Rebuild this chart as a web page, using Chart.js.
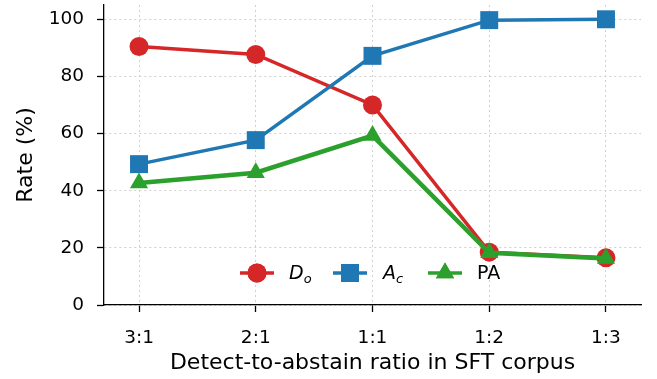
<!DOCTYPE html>
<html>
<head>
<meta charset="utf-8">
<script src="https://cdn.jsdelivr.net/npm/chart.js@4.4.1/dist/chart.umd.min.js"></script>
<style>
  html, body { margin: 0; padding: 0; background: #fff; }
  #wrap { width: 657px; height: 379px; }
</style>
</head>
<body>
<div id="wrap"><canvas id="myChart" width="657" height="379"></canvas></div>
<script>
const ratios = ['3:1', '2:1', '1:1', '1:2', '1:3'];
const detectOver = [90.5, 87.7, 70.0, 18.5, 16.5];
const abstainCorrect = [49.3, 57.7, 87.2, 99.7, 100.0];
const pa = [42.7, 46.3, 59.3, 18.3, 16.3];
const yTicks = [0, 20, 40, 60, 80, 100];

const COLORS = {
  red: '#d62728',
  blue: '#1f77b4',
  green: '#2ca02c',
};

const FONT = 'DejaVu Sans';

function toPoints(values) {
  return values.map((v, i) => ({x: i, y: v}));
}

// legend sits inside the plot, near the bottom
const legendItems = [
  {color: COLORS.red, style: 'circle', r: 9.5, main: 'D', sub: 'o', cx: 257, tx: 289},
  {color: COLORS.blue, style: 'rect', r: 12.7, main: 'A', sub: 'c', cx: 350, tx: 383},
  {color: COLORS.green, style: 'triangle', r: 10.5, main: 'PA', sub: '', cx: 445, tx: 477},
];

const legendPlugin = {
  id: 'innerLegend',
  afterDraw(chart) {
    const ctx = chart.ctx;
    const y = 273;
    ctx.save();
    legendItems.forEach(it => {
      ctx.strokeStyle = it.color;
      ctx.lineWidth = 3.5;
      ctx.beginPath();
      ctx.moveTo(it.cx - 17, y);
      ctx.lineTo(it.cx + 17, y);
      ctx.stroke();
      ctx.fillStyle = it.color;
      Chart.helpers.drawPoint(ctx, {pointStyle: it.style, radius: it.r, rotation: 0, borderWidth: 0}, it.cx, y);
      ctx.fill();
      ctx.fillStyle = '#000';
      ctx.textBaseline = 'alphabetic';
      ctx.textAlign = 'left';
      if (it.sub) {
        ctx.font = 'italic 19px "' + FONT + '"';
        ctx.fillText(it.main, it.tx, 279);
        const w = ctx.measureText(it.main).width;
        ctx.font = 'italic 13px "' + FONT + '"';
        ctx.fillText(it.sub, it.tx + w, 283);
      } else {
        ctx.font = '19px "' + FONT + '"';
        ctx.fillText(it.main, it.tx, 279);
      }
    });
    ctx.restore();
  }
};

const data = {
  datasets: [
    {
      label: 'D_o',
      data: toPoints(detectOver),
      borderColor: COLORS.red,
      backgroundColor: COLORS.red,
      borderWidth: 3.5,
      pointStyle: 'circle',
      pointRadius: 9.5,
      pointBorderWidth: 0,
      order: 3
    },
    {
      label: 'A_c',
      data: toPoints(abstainCorrect),
      borderColor: COLORS.blue,
      backgroundColor: COLORS.blue,
      borderWidth: 3.5,
      pointStyle: 'rect',
      pointRadius: 12.7,
      pointBorderWidth: 0,
      order: 2
    },
    {
      label: 'PA',
      data: toPoints(pa),
      borderColor: COLORS.green,
      backgroundColor: COLORS.green,
      borderWidth: 4.5,
      pointStyle: 'triangle',
      pointRadius: 10.5,
      pointBorderWidth: 0,
      order: 1
    }
  ]
};

const config = {
  type: 'line',
  data: data,
  options: {
    responsive: false,
    animation: false,
    layout: {autoPadding: false, padding: {top: 5, right: 16, left: 0, bottom: 0}},
    elements: {line: {tension: 0}},
    plugins: {
      legend: {display: false},
      tooltip: {enabled: false}
    },
    scales: {
      x: {
        type: 'linear',
        min: -0.3,
        max: 4.3,
        afterBuildTicks: (scale) => {
          scale.ticks = ratios.map((r, i) => ({value: i}));
        },
        afterFit: (scale) => { scale.height = 74; },
        ticks: {
          callback: (v) => ratios[v],
          color: '#000',
          font: {family: FONT, size: 18.5},
          padding: 15,
          maxRotation: 0
        },
        grid: {
          color: '#d0d0d0',
          lineWidth: 1,
          tickLength: 7,
          tickColor: '#000',
          tickWidth: 1.3
        },
        border: {display: true, color: '#000', width: 1.3, dash: [2, 3]},
        title: {
          display: true,
          text: 'Detect-to-abstain ratio in SFT corpus',
          color: '#000',
          font: {family: FONT, size: 22},
          padding: {top: 0, bottom: 3}
        }
      },
      y: {
        min: 0,
        max: 105,
        afterBuildTicks: (scale) => {
          scale.ticks = yTicks.map(v => ({value: v}));
        },
        afterFit: (scale) => {
          scale.width = 104;
          scale.paddingTop = 0;
        },
        ticks: {
          color: '#000',
          font: {family: FONT, size: 18.5},
          padding: 13
        },
        grid: {
          color: '#d0d0d0',
          lineWidth: 1,
          tickLength: 7,
          tickColor: '#000',
          tickWidth: 1.3
        },
        border: {display: true, color: '#000', width: 1.3, dash: [2, 3]},
        title: {
          display: true,
          text: 'Rate (%)',
          color: '#000',
          font: {family: FONT, size: 22},
          padding: {top: 13, bottom: 0}
        }
      }
    }
  },
  plugins: [legendPlugin]
};

const myChart = new Chart(document.getElementById('myChart'), config);
</script>
</body>
</html>
